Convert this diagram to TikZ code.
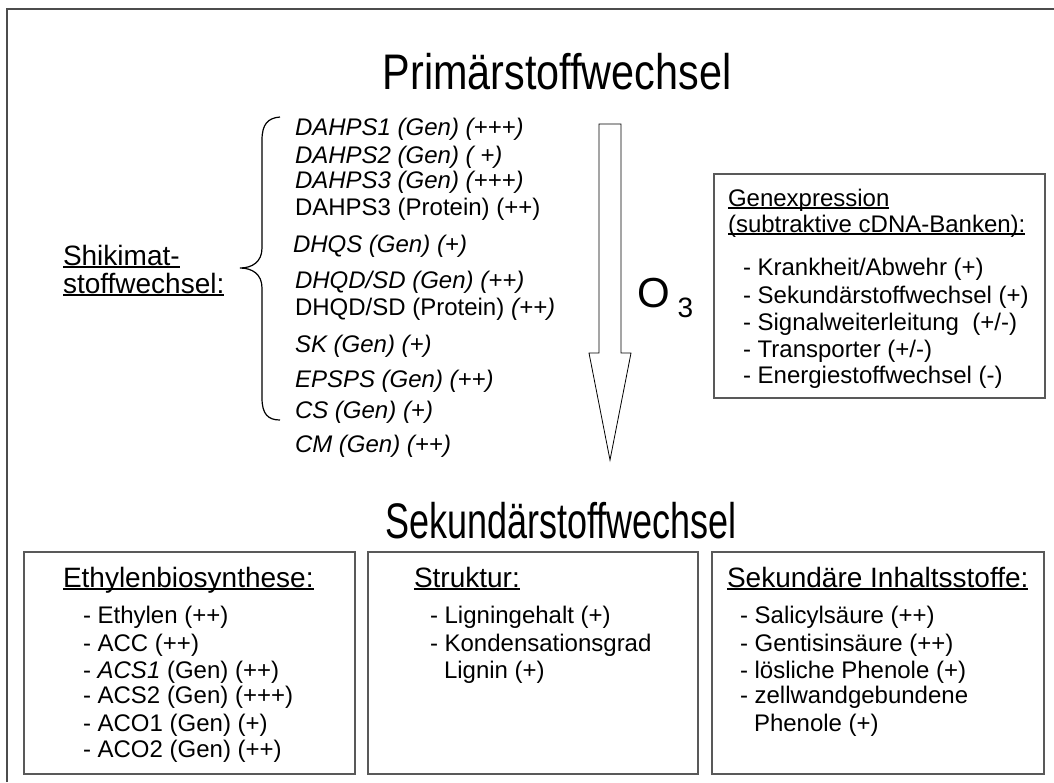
\documentclass[tikz,border=0pt]{standalone}
\usepackage{graphicx}
\usepackage{fontspec}
\setmainfont{Liberation Sans}
% underline placed just below the baseline, crossing descenders
\newcommand\ulin[1]{\setbox0\hbox{#1}\rlap{\rule[-0.11em]{\wd0}{0.07em}}\box0}
\begin{document}
\begin{tikzpicture}[x=1pt,y=-1pt,
  txt/.style={anchor=base west, inner sep=0pt, outer sep=0pt},
  big/.style={anchor=base, inner sep=0pt, font=\fontsize{50}{50}\selectfont},
  f24/.style={txt, font=\fontsize{24}{27}\selectfont},
  f24i/.style={txt, font=\fontsize{24}{27}\selectfont\itshape},
  f28/.style={txt, font=\fontsize{28}{28}\selectfont},
  framebox/.style={draw=black!65, line width=1.5pt, inner sep=0pt, anchor=north west},
  outline/.style={draw=black, line width=0.8pt}
]
\useasboundingbox (0,0) rectangle (1054,782);

% outer frame (left and top edges)
\coordinate (fb) at (7,782);
\coordinate (fc) at (7,9);
\coordinate (fr) at (1054,9);
\draw[black!70, line width=2pt] (fb) -- (fc) -- (fr);

% headings (narrow set)
\node[big] (prim) at (557,89) {\scalebox{0.827}[1]{Primärstoffwechsel}};
\node[big] (sek) at (561,538) {\scalebox{0.72}[1]{Sekundärstoffwechsel}};

% shikimate pathway label and brace
\node[f28] (shik1) at (63,265) {\ulin{Shikimat-}};
\node[f28] (shik2) at (63,293) {\ulin{stoffwechsel:}};
\draw[line width=1.2pt]
  (280,117) .. controls (268,118) and (262,124) .. (262,140)
  -- (262,248) .. controls (262,262) and (252,268) .. (240,268)
  .. controls (252,268) and (262,274) .. (262,288)
  -- (262,398) .. controls (262,414) and (268,420) .. (280,420);

% gene list
\node[f24i] (g1) at (295,135) {DAHPS1 (Gen) (+++)};
\node[f24i] (g2) at (295,163) {DAHPS2 (Gen) ( +)};
\node[f24i] (g3) at (295,188) {DAHPS3 (Gen) (+++)};
\node[f24]  (g4) at (295,215) {DAHPS3 (Protein) (++)};
\node[f24i] (g5) at (293,252) {DHQS (Gen) (+)};
\node[f24i] (g6) at (295,288) {DHQD/SD (Gen) (++)};
\node[f24]  (g7) at (295,315) {DHQD/SD (Protein) \textit{(++)}};
\node[f24i] (g8) at (295,352) {SK (Gen) (+)};
\node[f24i] (g9) at (295,387) {EPSPS (Gen) (++)};
\node[f24i] (g10) at (295,418) {CS (Gen) (+)};
\node[f24i] (g11) at (295,452) {CM (Gen) (++)};

% ozone arrow
\draw[outline] (599,124) -- (621,124) -- (621,353) -- (631,353) -- (610,460)
  -- (589,353) -- (599,353) -- cycle;
\node[txt] (ozone) at (637,307) {\fontsize{42}{42}\selectfont O\hspace{8pt}\raisebox{-10pt}{\fontsize{28}{28}\selectfont 3}};

% gene expression box
\node[framebox, minimum width=331pt, minimum height=224pt] (genbox) at (713,173) {};
\node[f24] (gh1) at (728,206) {\ulin{Genexpression}};
\node[f24] (gh2) at (728,232) {\ulin{(subtraktive cDNA-Banken):}};
\node[f24] (ge1) at (743,275) {- Krankheit/Abwehr (+)};
\node[f24] (ge2) at (743,303) {- Sekundärstoffwechsel (+)};
\node[f24] (ge3) at (743,330) {- Signalweiterleitung \ (+/-)};
\node[f24] (ge4) at (743,357) {- Transporter (+/-)};
\node[f24] (ge5) at (743,383) {- Energiestoffwechsel (-)};

% bottom boxes
\node[framebox, minimum width=331pt, minimum height=222pt] (ethbox) at (23,551) {};
\node[framebox, minimum width=330pt, minimum height=222pt] (strbox) at (367,551) {};
\node[framebox, minimum width=332pt, minimum height=222pt] (inhbox) at (711,551) {};

\node[f28] (eh) at (63,587) {\ulin{Ethylenbiosynthese:}};
\node[f24] (e1) at (83,623) {- Ethylen (++)};
\node[f24] (e2) at (83,651) {- ACC (++)};
\node[f24] (e3) at (83,678) {- \textit{ACS1} (Gen) (++)};
\node[f24] (e4) at (83,703) {- ACS2 (Gen) (+++)};
\node[f24] (e5) at (83,731) {- ACO1 (Gen) (+)};
\node[f24] (e6) at (83,757) {- ACO2 (Gen) (++)};

\node[f28] (sh) at (414,587) {\ulin{Struktur:}};
\node[f24] (s1) at (430,623) {- Ligningehalt (+)};
\node[f24] (s2) at (430,651) {- Kondensationsgrad};
\node[f24] (s3) at (444,678) {Lignin (+)};

\node[f28] (ih) at (727,587) {\ulin{Sekundäre Inhaltsstoffe:}};
\node[f24] (i1) at (740,623) {- Salicylsäure (++)};
\node[f24] (i2) at (740,651) {- Gentisinsäure (++)};
\node[f24] (i3) at (740,678) {- lösliche Phenole (+)};
\node[f24] (i4) at (740,703) {- zellwandgebundene};
\node[f24] (i5) at (754,731) {Phenole (+)};
\end{tikzpicture}
\end{document}
